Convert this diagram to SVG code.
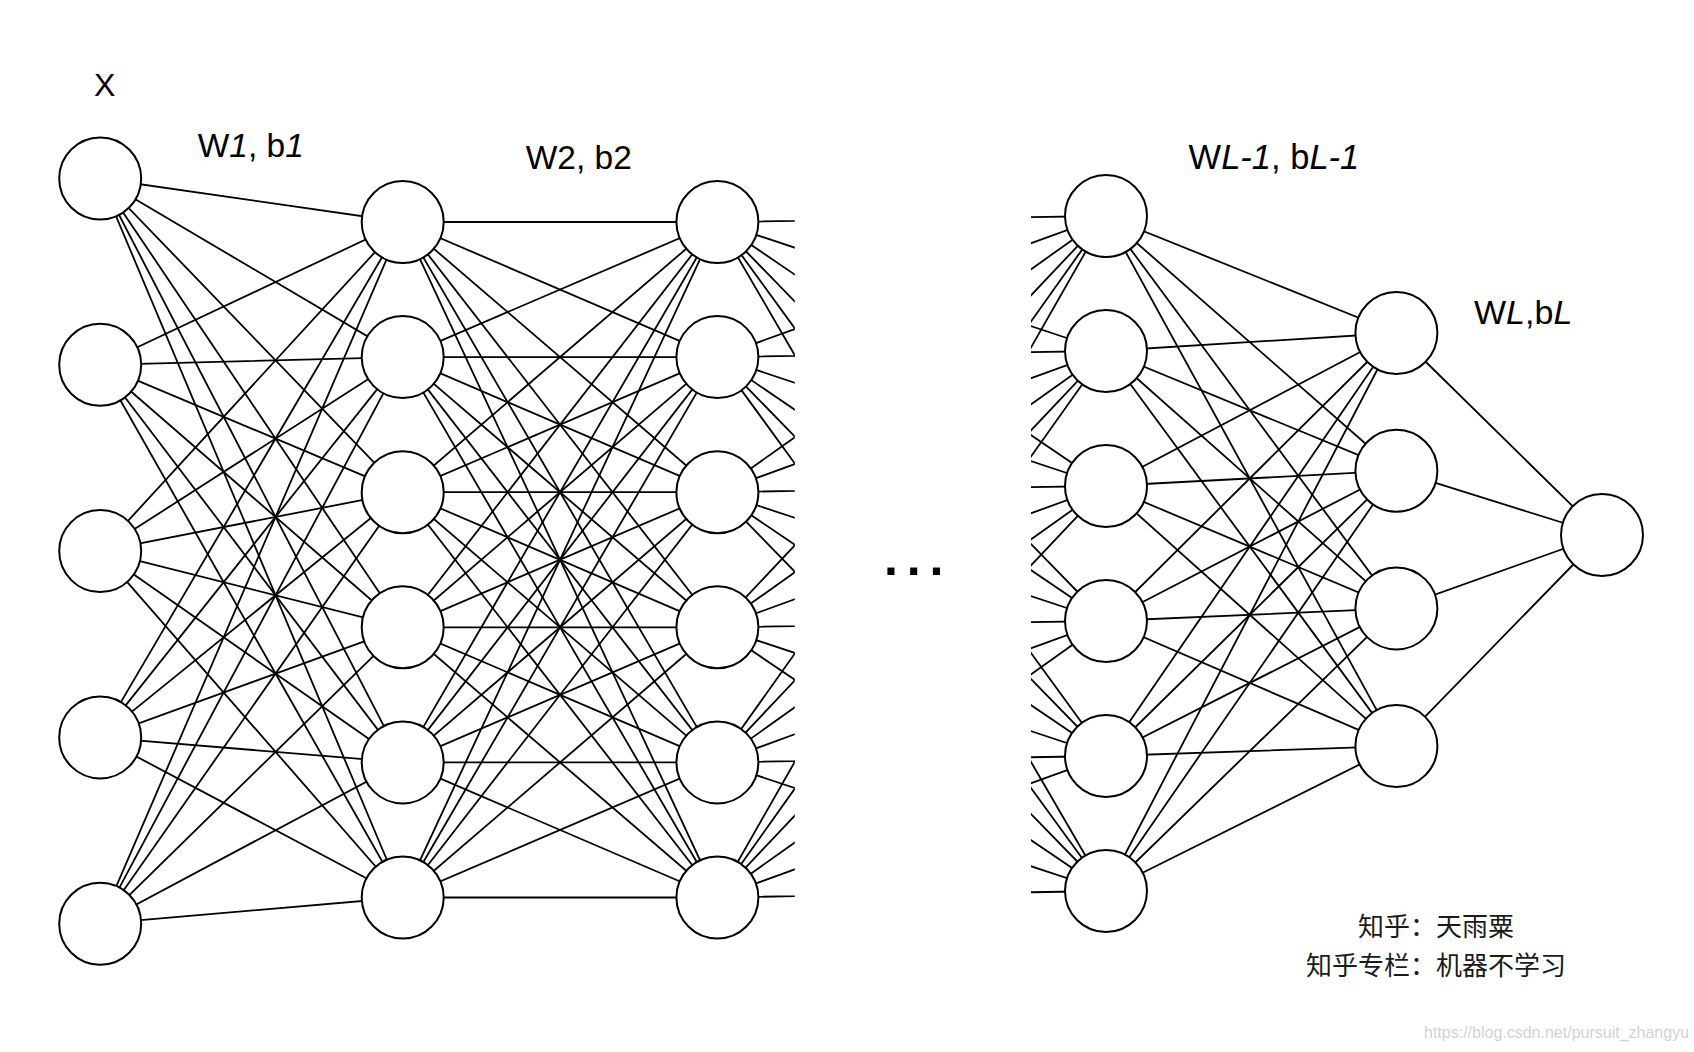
<svg xmlns="http://www.w3.org/2000/svg" width="1694" height="1052" viewBox="0 0 1694 1052">
<defs>
<style>
.c{fill:#fff;stroke:#000;stroke-width:2}
.e{fill:none;stroke:#000;stroke-width:1.8}
.lb{font-family:"Liberation Sans",Arial,sans-serif;fill:#000}
.it{font-style:italic}
.cn{font-family:"Liberation Sans","Noto Sans CJK SC",sans-serif;font-size:26px;fill:#1a1a1a}
</style>
<clipPath id="gap">
<rect x="0" y="0" width="794.8" height="1052"/>
<rect x="1031" y="0" width="663" height="1052"/>
</clipPath>
</defs>
<rect x="0" y="0" width="1694" height="1052" fill="#fff"/>
<g id="connectors">
<g id="w1">
<path class="e" d="M100.2 178.5L402.7 222M100.2 178.5L402.7 357.1M100.2 178.5L402.7 492.2M100.2 178.5L402.7 627.3M100.2 178.5L402.7 762.4M100.2 178.5L402.7 897.5"/>
<path class="e" d="M100.2 364.8L402.7 222M100.2 364.8L402.7 357.1M100.2 364.8L402.7 492.2M100.2 364.8L402.7 627.3M100.2 364.8L402.7 762.4M100.2 364.8L402.7 897.5"/>
<path class="e" d="M100.2 551.1L402.7 222M100.2 551.1L402.7 357.1M100.2 551.1L402.7 492.2M100.2 551.1L402.7 627.3M100.2 551.1L402.7 762.4M100.2 551.1L402.7 897.5"/>
<path class="e" d="M100.2 737.4L402.7 222M100.2 737.4L402.7 357.1M100.2 737.4L402.7 492.2M100.2 737.4L402.7 627.3M100.2 737.4L402.7 762.4M100.2 737.4L402.7 897.5"/>
<path class="e" d="M100.2 923.7L402.7 222M100.2 923.7L402.7 357.1M100.2 923.7L402.7 492.2M100.2 923.7L402.7 627.3M100.2 923.7L402.7 762.4M100.2 923.7L402.7 897.5"/>
</g>
<g id="w2">
<path class="e" d="M402.7 222L717.4 222M402.7 222L717.4 357.1M402.7 222L717.4 492.2M402.7 222L717.4 627.3M402.7 222L717.4 762.4M402.7 222L717.4 897.5"/>
<path class="e" d="M402.7 357.1L717.4 222M402.7 357.1L717.4 357.1M402.7 357.1L717.4 492.2M402.7 357.1L717.4 627.3M402.7 357.1L717.4 762.4M402.7 357.1L717.4 897.5"/>
<path class="e" d="M402.7 492.2L717.4 222M402.7 492.2L717.4 357.1M402.7 492.2L717.4 492.2M402.7 492.2L717.4 627.3M402.7 492.2L717.4 762.4M402.7 492.2L717.4 897.5"/>
<path class="e" d="M402.7 627.3L717.4 222M402.7 627.3L717.4 357.1M402.7 627.3L717.4 492.2M402.7 627.3L717.4 627.3M402.7 627.3L717.4 762.4M402.7 627.3L717.4 897.5"/>
<path class="e" d="M402.7 762.4L717.4 222M402.7 762.4L717.4 357.1M402.7 762.4L717.4 492.2M402.7 762.4L717.4 627.3M402.7 762.4L717.4 762.4M402.7 762.4L717.4 897.5"/>
<path class="e" d="M402.7 897.5L717.4 222M402.7 897.5L717.4 357.1M402.7 897.5L717.4 492.2M402.7 897.5L717.4 627.3M402.7 897.5L717.4 762.4M402.7 897.5L717.4 897.5"/>
</g>
<g id="stubs" clip-path="url(#gap)">
<path class="e" d="M717.4 222L1106 216M717.4 222L1106 351M717.4 222L1106 486M717.4 222L1106 621M717.4 222L1106 756M717.4 222L1106 891"/>
<path class="e" d="M717.4 357.1L1106 216M717.4 357.1L1106 351M717.4 357.1L1106 486M717.4 357.1L1106 621M717.4 357.1L1106 756M717.4 357.1L1106 891"/>
<path class="e" d="M717.4 492.2L1106 216M717.4 492.2L1106 351M717.4 492.2L1106 486M717.4 492.2L1106 621M717.4 492.2L1106 756M717.4 492.2L1106 891"/>
<path class="e" d="M717.4 627.3L1106 216M717.4 627.3L1106 351M717.4 627.3L1106 486M717.4 627.3L1106 621M717.4 627.3L1106 756M717.4 627.3L1106 891"/>
<path class="e" d="M717.4 762.4L1106 216M717.4 762.4L1106 351M717.4 762.4L1106 486M717.4 762.4L1106 621M717.4 762.4L1106 756M717.4 762.4L1106 891"/>
<path class="e" d="M717.4 897.5L1106 216M717.4 897.5L1106 351M717.4 897.5L1106 486M717.4 897.5L1106 621M717.4 897.5L1106 756M717.4 897.5L1106 891"/>
</g>
<g id="wL1">
<path class="e" d="M1106 216L1396.4 333M1106 216L1396.4 470.7M1106 216L1396.4 608.4M1106 216L1396.4 746.1"/>
<path class="e" d="M1106 351L1396.4 333M1106 351L1396.4 470.7M1106 351L1396.4 608.4M1106 351L1396.4 746.1"/>
<path class="e" d="M1106 486L1396.4 333M1106 486L1396.4 470.7M1106 486L1396.4 608.4M1106 486L1396.4 746.1"/>
<path class="e" d="M1106 621L1396.4 333M1106 621L1396.4 470.7M1106 621L1396.4 608.4M1106 621L1396.4 746.1"/>
<path class="e" d="M1106 756L1396.4 333M1106 756L1396.4 470.7M1106 756L1396.4 608.4M1106 756L1396.4 746.1"/>
<path class="e" d="M1106 891L1396.4 333M1106 891L1396.4 470.7M1106 891L1396.4 608.4M1106 891L1396.4 746.1"/>
</g>
<g id="wL">
<path class="e" d="M1396.4 333L1602 535M1396.4 470.7L1602 535M1396.4 608.4L1602 535M1396.4 746.1L1602 535"/>
</g>
</g>
<g id="layer1">
<g id="n1_1"><circle class="c" cx="100.2" cy="178.5" r="41"/></g>
<g id="n1_2"><circle class="c" cx="100.2" cy="364.8" r="41"/></g>
<g id="n1_3"><circle class="c" cx="100.2" cy="551.1" r="41"/></g>
<g id="n1_4"><circle class="c" cx="100.2" cy="737.4" r="41"/></g>
<g id="n1_5"><circle class="c" cx="100.2" cy="923.7" r="41"/></g>
</g>
<g id="layer2">
<g id="n2_1"><circle class="c" cx="402.7" cy="222" r="41"/></g>
<g id="n2_2"><circle class="c" cx="402.7" cy="357.1" r="41"/></g>
<g id="n2_3"><circle class="c" cx="402.7" cy="492.2" r="41"/></g>
<g id="n2_4"><circle class="c" cx="402.7" cy="627.3" r="41"/></g>
<g id="n2_5"><circle class="c" cx="402.7" cy="762.4" r="41"/></g>
<g id="n2_6"><circle class="c" cx="402.7" cy="897.5" r="41"/></g>
</g>
<g id="layer3">
<g id="n3_1"><circle class="c" cx="717.4" cy="222" r="41"/></g>
<g id="n3_2"><circle class="c" cx="717.4" cy="357.1" r="41"/></g>
<g id="n3_3"><circle class="c" cx="717.4" cy="492.2" r="41"/></g>
<g id="n3_4"><circle class="c" cx="717.4" cy="627.3" r="41"/></g>
<g id="n3_5"><circle class="c" cx="717.4" cy="762.4" r="41"/></g>
<g id="n3_6"><circle class="c" cx="717.4" cy="897.5" r="41"/></g>
</g>
<g id="layerL1">
<g id="nL1_1"><circle class="c" cx="1106" cy="216" r="41"/></g>
<g id="nL1_2"><circle class="c" cx="1106" cy="351" r="41"/></g>
<g id="nL1_3"><circle class="c" cx="1106" cy="486" r="41"/></g>
<g id="nL1_4"><circle class="c" cx="1106" cy="621" r="41"/></g>
<g id="nL1_5"><circle class="c" cx="1106" cy="756" r="41"/></g>
<g id="nL1_6"><circle class="c" cx="1106" cy="891" r="41"/></g>
</g>
<g id="layerL">
<g id="nL_1"><circle class="c" cx="1396.4" cy="333" r="41"/></g>
<g id="nL_2"><circle class="c" cx="1396.4" cy="470.7" r="41"/></g>
<g id="nL_3"><circle class="c" cx="1396.4" cy="608.4" r="41"/></g>
<g id="nL_4"><circle class="c" cx="1396.4" cy="746.1" r="41"/></g>
</g>
<g id="output"><circle class="c" cx="1602" cy="535" r="41"/></g>
<g id="labels">
<text class="lb" x="94" y="95.6" font-size="32">X</text>
<text class="lb" x="197.7" y="156.5" font-size="33.5">W<tspan class="it">1</tspan>, b<tspan class="it">1</tspan></text>
<text class="lb" x="525.7" y="169.4" font-size="33.5">W2, b2</text>
<text class="lb" x="1188.6" y="169.4" font-size="34.5">W<tspan class="it">L-1</tspan>, b<tspan class="it">L-1</tspan></text>
<text class="lb" x="1474" y="323.7" font-size="34">W<tspan class="it">L</tspan>,b<tspan class="it">L</tspan></text>
<text class="lb" x="884" y="574.5" font-size="50" font-weight="bold" letter-spacing="8.8">...</text>
<text class="cn" x="1436" y="936" text-anchor="middle">知乎：天雨粟</text>
<text class="cn" x="1436" y="975" text-anchor="middle">知乎专栏：机器不学习</text>
<text x="1424" y="1038" font-family="Liberation Sans, Arial, sans-serif" font-size="16" fill="#d2d2d2">https://blog.csdn.net/pursuit_zhangyu</text>
</g>
</svg>
